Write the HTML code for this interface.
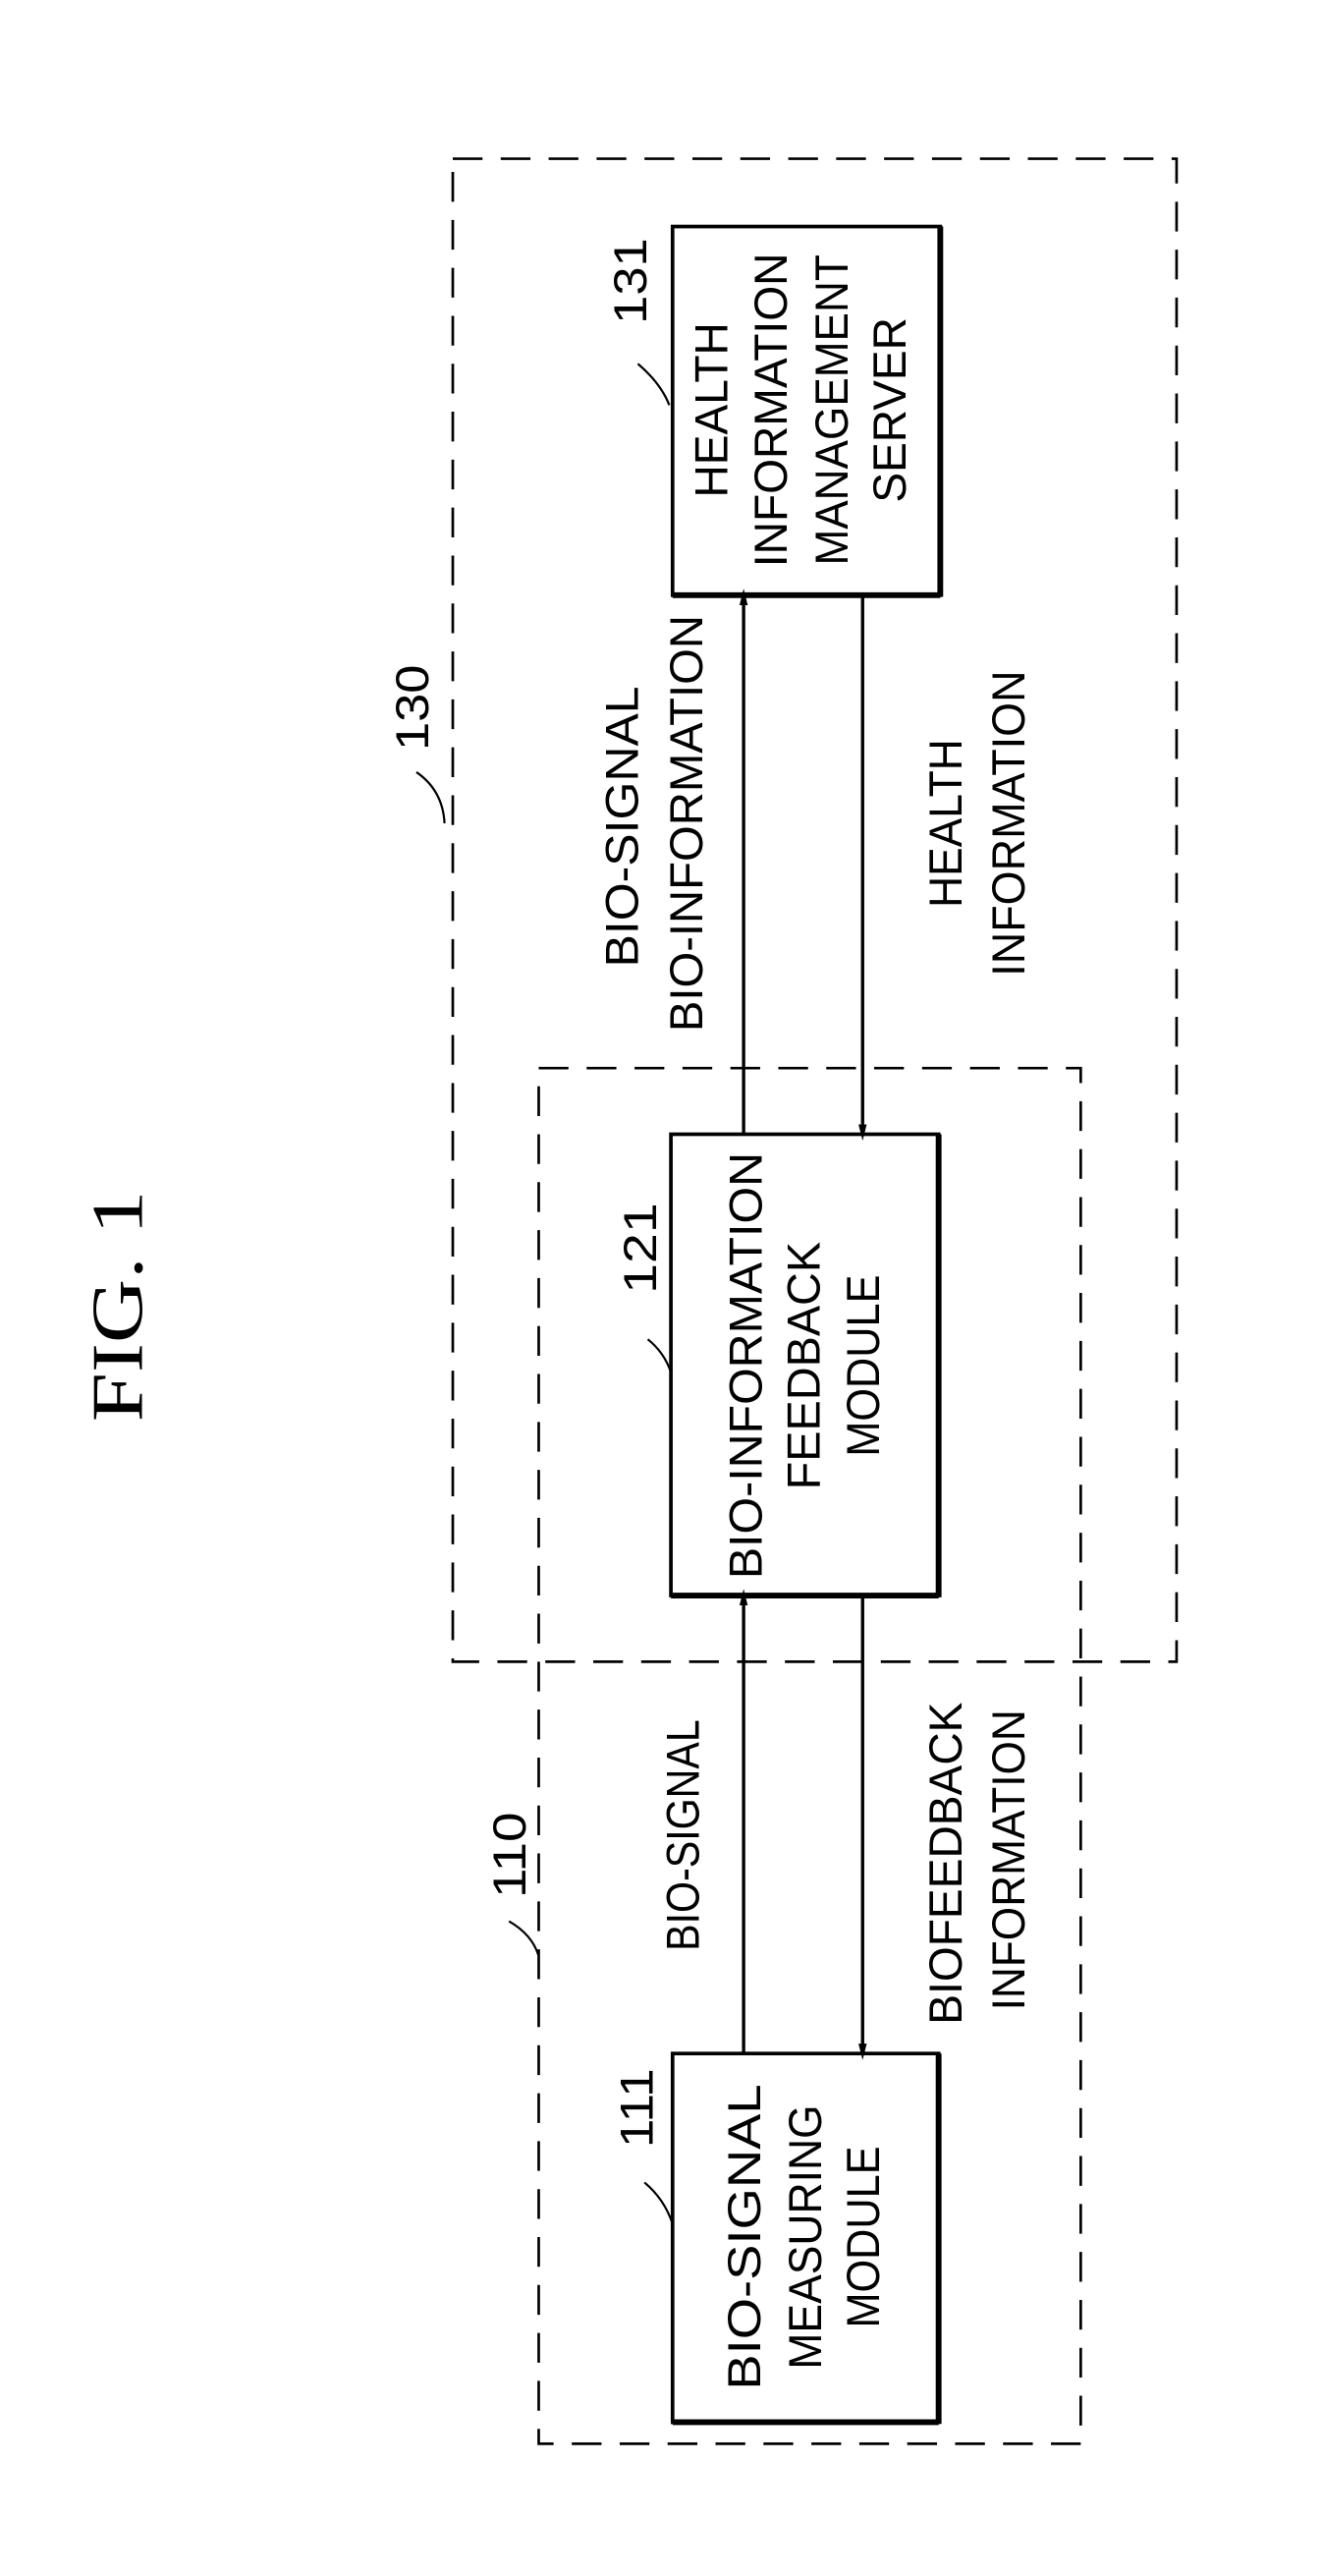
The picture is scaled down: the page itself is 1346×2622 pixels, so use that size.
<!DOCTYPE html>
<html><head><meta charset="utf-8"><style>
html,body{margin:0;padding:0;background:#fff;}
svg{display:block;}
text{font-family:"Liberation Sans",Arial,sans-serif;fill:#000;}
</style></head><body>
<svg width="1346" height="2622" viewBox="0 0 800 1558" preserveAspectRatio="none" xmlns="http://www.w3.org/2000/svg">
<defs>
<marker id="ah" markerWidth="10" markerHeight="20" refX="10" refY="5" orient="auto" markerUnits="userSpaceOnUse" viewBox="0 0 20 10">
<path d="M0,0 L20,5 L0,10 Z" fill="#000"/>
</marker>
</defs>
<!-- dashed boxes -->
<rect x="274" y="96" width="438" height="909" fill="none" stroke="#000" stroke-width="1.6" stroke-dasharray="18,11"/>
<rect x="326" y="646" width="328" height="832" fill="none" stroke="#000" stroke-width="1.6" stroke-dasharray="18,11"/>
<!-- solid boxes -->
<g fill="#fff" stroke="#000" stroke-width="2.2">
<rect x="407" y="137" width="162" height="223"/>
<rect x="406" y="686" width="162" height="279"/>
<rect x="407" y="1242" width="161" height="223"/>
</g>
<g stroke="#000" stroke-width="3.5">
<line x1="569" y1="137" x2="569" y2="361"/><line x1="407" y1="360" x2="569" y2="360"/>
<line x1="568" y1="686" x2="568" y2="966"/><line x1="406" y1="965" x2="568" y2="965"/>
<line x1="568" y1="1242" x2="568" y2="1466"/><line x1="407" y1="1465" x2="568" y2="1465"/>
</g>
<!-- arrows -->
<g stroke="#000" stroke-width="2">
<line x1="450" y1="686" x2="450" y2="361" marker-end="url(#ah)"/>
<line x1="522" y1="360" x2="522" y2="685" marker-end="url(#ah)"/>
<line x1="450" y1="1242" x2="450" y2="966" marker-end="url(#ah)"/>
<line x1="522" y1="965" x2="522" y2="1241" marker-end="url(#ah)"/>
</g>
<!-- leaders -->
<g fill="none" stroke="#000" stroke-width="1.3">
<path d="M252,467 Q268,478 269,498"/>
<path d="M386,220 Q400,232 405,245"/>
<path d="M392,810 Q402,818 406,830"/>
<path d="M308,1162 Q322,1170 326,1183"/>
<path d="M390,1320 Q402,1330 407,1345"/>
</g>
<!-- FIG -->
<text transform="translate(70,790) rotate(-90)" y="16" text-anchor="middle" font-family="Liberation Serif, serif" font-size="44" textLength="140" lengthAdjust="spacingAndGlyphs" style="font-family:'Liberation Serif',serif">FIG. 1</text>
<!-- ref numbers -->
<g font-size="28">
<text transform="translate(249,428) rotate(-90)" y="10" text-anchor="middle" textLength="52" lengthAdjust="spacingAndGlyphs">130</text>
<text transform="translate(381,170) rotate(-90)" y="10" text-anchor="middle" textLength="52" lengthAdjust="spacingAndGlyphs">131</text>
<text transform="translate(387,755) rotate(-90)" y="10" text-anchor="middle" textLength="55" lengthAdjust="spacingAndGlyphs">121</text>
<text transform="translate(308,1122) rotate(-90)" y="10" text-anchor="middle" textLength="52" lengthAdjust="spacingAndGlyphs">110</text>
<text transform="translate(385,1275) rotate(-90)" y="10" text-anchor="middle" textLength="48" lengthAdjust="spacingAndGlyphs">111</text>
</g>
<g font-size="28">
<!-- box 131 -->
<text transform="translate(430,248) rotate(-90)" y="10" text-anchor="middle" textLength="106" lengthAdjust="spacingAndGlyphs">HEALTH</text>
<text transform="translate(466,248) rotate(-90)" y="10" text-anchor="middle" textLength="190" lengthAdjust="spacingAndGlyphs">INFORMATION</text>
<text transform="translate(503,248) rotate(-90)" y="10" text-anchor="middle" textLength="188" lengthAdjust="spacingAndGlyphs">MANAGEMENT</text>
<text transform="translate(538,248) rotate(-90)" y="10" text-anchor="middle" textLength="112" lengthAdjust="spacingAndGlyphs">SERVER</text>
<!-- box 121 -->
<text transform="translate(451,826) rotate(-90)" y="10" text-anchor="middle" textLength="258" lengthAdjust="spacingAndGlyphs">BIO-INFORMATION</text>
<text transform="translate(486,826) rotate(-90)" y="10" text-anchor="middle" textLength="150" lengthAdjust="spacingAndGlyphs">FEEDBACK</text>
<text transform="translate(522,826) rotate(-90)" y="10" text-anchor="middle" textLength="110" lengthAdjust="spacingAndGlyphs">MODULE</text>
<!-- box 111 -->
<text transform="translate(450,1353) rotate(-90)" y="10" text-anchor="middle" textLength="185" lengthAdjust="spacingAndGlyphs">BIO-SIGNAL</text>
<text transform="translate(487,1353) rotate(-90)" y="10" text-anchor="middle" textLength="160" lengthAdjust="spacingAndGlyphs">MEASURING</text>
<text transform="translate(522,1353) rotate(-90)" y="10" text-anchor="middle" textLength="110" lengthAdjust="spacingAndGlyphs">MODULE</text>
<!-- connector labels -->
<text transform="translate(376,500) rotate(-90)" y="10" text-anchor="middle" textLength="170" lengthAdjust="spacingAndGlyphs">BIO-SIGNAL</text>
<text transform="translate(415,498) rotate(-90)" y="10" text-anchor="middle" textLength="252" lengthAdjust="spacingAndGlyphs">BIO-INFORMATION</text>
<text transform="translate(572,498) rotate(-90)" y="10" text-anchor="middle" textLength="102" lengthAdjust="spacingAndGlyphs">HEALTH</text>
<text transform="translate(610,498) rotate(-90)" y="10" text-anchor="middle" textLength="185" lengthAdjust="spacingAndGlyphs">INFORMATION</text>
<text transform="translate(413,1110) rotate(-90)" y="10" text-anchor="middle" textLength="140" lengthAdjust="spacingAndGlyphs">BIO-SIGNAL</text>
<text transform="translate(572,1127) rotate(-90)" y="10" text-anchor="middle" textLength="195" lengthAdjust="spacingAndGlyphs">BIOFEEDBACK</text>
<text transform="translate(610,1125) rotate(-90)" y="10" text-anchor="middle" textLength="182" lengthAdjust="spacingAndGlyphs">INFORMATION</text>
</g>
</svg>
</body></html>
